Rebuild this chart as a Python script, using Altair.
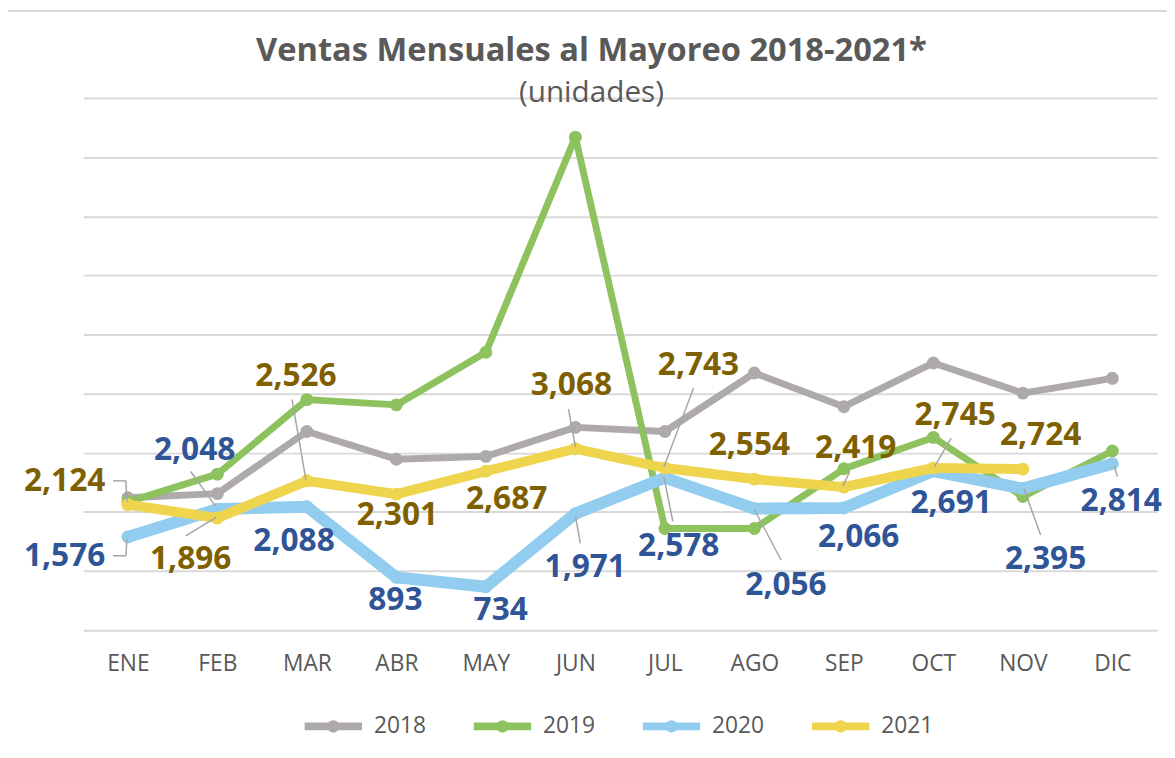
import altair as alt
import pandas as pd

# ---------------- data ----------------
MONTHS = ["ENE", "FEB", "MAR", "ABR", "MAY", "JUN", "JUL", "AGO", "SEP", "OCT", "NOV", "DIC"]
SERIES = ["2018", "2019", "2020", "2021"]
V2018 = [2240, 2310, 3360, 2890, 2940, 3430, 3360, 4350, 3780, 4520, 4010, 4260]
V2019 = [2170, 2640, 3900, 3810, 4700, 8340, 1720, 1720, 2730, 3260, 2260, 3030]
V2020 = [1576, 2048, 2088, 893, 734, 1971, 2578, 2056, 2066, 2691, 2395, 2814]
V2021 = [2124, 1896, 2526, 2301, 2687, 3068, 2743, 2554, 2419, 2745, 2724]
LABELLED = ["2020", "2021"]
TITLE = "Ventas Mensuales al Mayoreo 2018-2021*"
SUBTITLE = "(unidades)"

# ---------------- layout / style ----------------
W, H = 1086, 538
YMAX = 9000
PPM = W / 12.0
PPY = H / YMAX
FONT = "Open Sans"
COLORS = ["#AEAAAA", "#8DC25F", "#92CDEF", "#EFD54E"]
WIDTHS = [7, 7, 12, 10]
LABEL_COLORS = {"2020": "#2F5597", "2021": "#7F6000"}
# label centre offsets (px) from the data point
LAB_DX = {"2020": [-64, -23, -13, -1, 15, 10, 14, 32, 15, 18, 23, 9],
          "2021": [-64, -27, -11, 1, 21, -4, 34, -5, 12, 22, 18]}
LAB_DY = {"2020": [19, -60, 35, 23, 24, 54, 69, 77, 29, 32, 71, 38],
          "2021": [-24, 42, -106, 21, 28, -64, -104, -34, -39, -53, -34]}
# leader segments: series, month index, x1, y1, x2, y2 (px offsets from point)
LEADERS = [
    ("2021", 0, -15, -24, -2, -24), ("2021", 0, -2, -24, -1, -3),
    ("2021", 1, -32, 18, -1, -1), ("2021", 2, -15, -82, -1, -1),
    ("2021", 5, -7, -40, 0, -2), ("2021", 6, 29, -81, -1, -1),
    ("2021", 8, 6, -16, -1, -1), ("2021", 9, 18, -30, 1, -1),
    ("2020", 0, -15, 19, -2, 19), ("2020", 0, -2, 19, -1, 2),
    ("2020", 1, -27, -38, -2, -3), ("2020", 5, 0, 2, 5, 30),
    ("2020", 6, -1, -1, 8, 44), ("2020", 7, 0, 1, 27, 52),
    ("2020", 10, 1, 0, 18, 47), ("2020", 11, 2, 2, 5, 13),
]

values = dict(zip(SERIES, [V2018, V2019, V2020, V2021]))

rows = []
for s in SERIES:
    for i, v in enumerate(values[s]):
        rows.append({"series": s, "idx": i, "value": v})
df = pd.DataFrame(rows)

lab_rows = []
for s in LABELLED:
    for i, v in enumerate(values[s]):
        lab_rows.append({"series": s, "text": f"{v:,}",
                         "lx": i + LAB_DX[s][i] / PPM,
                         "ly": v - LAB_DY[s][i] / PPY})
labs = pd.DataFrame(lab_rows)

lead_rows = []
for s, i, x1, y1, x2, y2 in LEADERS:
    v = values[s][i]
    lead_rows.append({"x1": i + x1 / PPM, "y1": v - y1 / PPY,
                      "x2": i + x2 / PPM, "y2": v - y2 / PPY})
leads = pd.DataFrame(lead_rows)

label_expr = "[" + ",".join(f"'{m}'" for m in MONTHS) + "][datum.value]"
xscale = alt.Scale(domain=[-0.5, 11.5], nice=False, zero=False)
yscale = alt.Scale(domain=[0, YMAX], nice=False, zero=True)
xaxis = alt.Axis(title=None, values=list(range(12)), labelExpr=label_expr,
                 grid=False, ticks=False, domain=False, labelFont=FONT,
                 labelFontSize=23, labelColor="#595959", labelPadding=23)
yaxis = alt.Axis(title=None, values=list(range(0, YMAX + 1, 1000)), labels=False,
                 ticks=False, domain=False, grid=True, gridColor="#D9D9D9",
                 gridWidth=2)

LEG_PATH = "M-1,0L1,0M0.08,0A0.08,0.08,0,1,1,-0.08,0A0.08,0.08,0,1,1,0.08,0"
legend = alt.Legend(title=None, orient="none", legendX=220, legendY=602,
                    direction="horizontal", symbolType=LEG_PATH, symbolSize=3364,
                    symbolStrokeWidth=8, labelFont=FONT, labelFontSize=23,
                    labelColor="#595959", columnPadding=32, labelOffset=8,
                    padding=0)
color = alt.Color("series:N", scale=alt.Scale(domain=SERIES, range=COLORS),
                  legend=legend)

layers = []
for s, w in zip(SERIES, WIDTHS):
    base = alt.Chart(df).transform_filter(alt.datum.series == s)
    layers.append(base.mark_line(strokeWidth=w, strokeCap="round", strokeJoin="round").encode(
        x=alt.X("idx:Q", scale=xscale, axis=xaxis),
        y=alt.Y("value:Q", scale=yscale, axis=yaxis),
        color=color))
    layers.append(base.mark_circle(size=170, opacity=1).encode(
        x=alt.X("idx:Q", scale=xscale, axis=xaxis),
        y=alt.Y("value:Q", scale=yscale, axis=yaxis),
        color=color))

layers.append(alt.Chart(leads).mark_rule(color="#A6A6A6", strokeWidth=1.5).encode(
    x=alt.X("x1:Q", scale=xscale, axis=xaxis), x2="x2:Q",
    y=alt.Y("y1:Q", scale=yscale, axis=yaxis), y2="y2:Q"))

for s in LABELLED:
    layers.append(alt.Chart(labs).transform_filter(alt.datum.series == s).mark_text(
        font=FONT, fontSize=32, fontWeight="bold", color=LABEL_COLORS[s],
        align="center", baseline="middle").encode(
        x=alt.X("lx:Q", scale=xscale, axis=xaxis),
        y=alt.Y("ly:Q", scale=yscale, axis=yaxis),
        text="text:N"))

# title and subtitle
tdf = pd.DataFrame({"title": [TITLE], "subtitle": [SUBTITLE]})
layers.append(alt.Chart(tdf).mark_text(
    font=FONT, fontSize=33, fontWeight="bold", color="#595959",
    align="center", baseline="alphabetic").encode(
    x=alt.value(514), y=alt.value(-38), text="title:N"))
layers.append(alt.Chart(tdf).mark_text(
    font=FONT, fontSize=30, color="#595959",
    align="center", baseline="alphabetic").encode(
    x=alt.value(514), y=alt.value(4), text="subtitle:N"))

# chart frame (left and top edges)
layers.append(alt.Chart(tdf).mark_rule(color="#D9D9D9", strokeWidth=2).encode(
    x=alt.value(-77), y=alt.value(-88), y2=alt.value(700)))
layers.append(alt.Chart(tdf).mark_rule(color="#D9D9D9", strokeWidth=2).encode(
    x=alt.value(-77), x2=alt.value(1200), y=alt.value(-88)))

chart = alt.layer(*layers).properties(
    width=W, height=H,
    autosize=alt.AutoSizeParams(type="none"),
    padding={"left": 76, "top": 87, "right": 10, "bottom": 110},
).configure_view(stroke=None)

chart.save("out.html", embed_options={"renderer": "svg", "actions": False})
